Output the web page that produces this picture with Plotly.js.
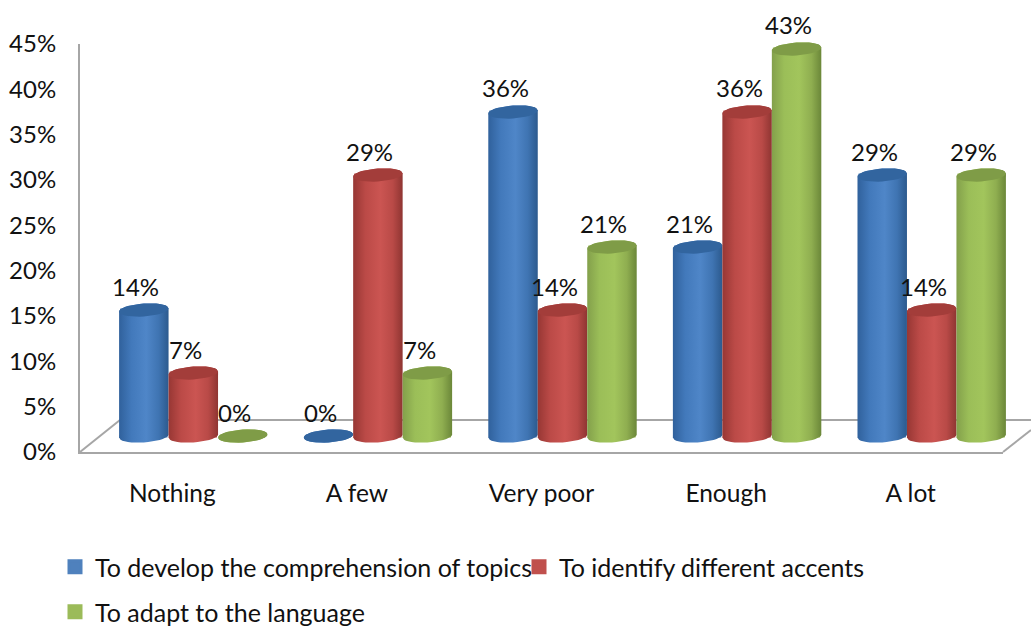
<!DOCTYPE html>
<html><head><meta charset="utf-8">
<script src="https://cdn.plot.ly/plotly-3.0.1.min.js"></script>
<style>html,body{margin:0;padding:0;background:#fff;overflow:hidden;width:1031px;height:627px}</style>
</head><body><div id="chart"></div>
<script>
const categories = ["Nothing", "A few", "Very poor", "Enough", "A lot"];
const comprehension = [14, 0, 36, 21, 29];
const accents = [7, 29, 14, 36, 14];
const language = [0, 7, 21, 43, 29];
const seriesNames = ["To develop the comprehension of topics", "To identify different accents", "To adapt to the language"];
const yTicks = [0, 5, 10, 15, 20, 25, 30, 35, 40, 45];

const FONT = "Lato, 'Open Sans', sans-serif";
const W = 1031, H = 670;
const series = [
  {name: seriesNames[0], values: comprehension, legend: "legend", color: "#4f81bd", cap: "#32659f",
   grad: [[0,"#30619c"],[0.25,"#4279bb"],[0.55,"#4f86c8"],[0.8,"#3f74b2"],[1,"#2c5a8e"]]},
  {name: seriesNames[1], values: accents, legend: "legend", color: "#c0504d", cap: "#a33d3a",
   grad: [[0,"#973734"],[0.25,"#bb4a47"],[0.55,"#cb5552"],[0.8,"#b94a47"],[1,"#8f3532"]]},
  {name: seriesNames[2], values: language, legend: "legend2", color: "#9bbb59", cap: "#7f9c47",
   grad: [[0,"#83a04b"],[0.25,"#9bbe58"],[0.55,"#a2c55c"],[0.8,"#8fae50"],[1,"#6b8739"]]}
];
const slot = 0.268, rx = 0.134, ry = 0.72, tilt = 0.18;
const traces = [];
traces.push({type:"scatter", x:categories, y:categories.map(()=>0), mode:"markers", marker:{opacity:0,size:1},
  showlegend:false, hoverinfo:"skip", xaxis:"x", yaxis:"y"});
series.forEach(s => traces.push({type:"bar", name:s.name, x:categories.map((_,i)=>i), y:s.values, legend:s.legend,
  width:0.24, marker:{color:s.color, line:{color:s.color, width:3}}, xaxis:"x2", yaxis:"y2", hoverinfo:"skip"}));
function arc(xc, yc, from, to) {
  const xs = [], ys = [];
  for (let d = from; d <= to; d += 10) {
    const t = d * Math.PI / 180;
    xs.push(xc + rx * Math.cos(t));
    ys.push(yc + ry * Math.sin(t) + tilt * Math.cos(t));
  }
  return [xs, ys];
}
const annotations = [];
categories.forEach((c, i) => {
  series.forEach((s, k) => {
    const xc = i + (k - 1) * slot, v = s.values[i];
    const low = arc(xc, 0, 180, 360), up = arc(xc, v, 0, 180);
    traces.push({type:"scatter", mode:"lines", x:low[0].concat(up[0], [low[0][0]]), y:low[1].concat(up[1], [low[1][0]]),
      fill:"toself", fillgradient:{type:"horizontal", colorscale:s.grad}, line:{width:0, color:s.color},
      showlegend:false, hoverinfo:"skip", xaxis:"x2", yaxis:"y2"});
    const cap = arc(xc, v, 0, 360);
    traces.push({type:"scatter", mode:"lines", x:cap[0], y:cap[1], fill:"toself", fillcolor:s.cap, line:{width:0, color:s.cap},
      showlegend:false, hoverinfo:"skip", xaxis:"x2", yaxis:"y2"});
    annotations.push({xref:"x2", yref:"y2", x:xc, y:v, text:v+"%", showarrow:false, xshift:-8, yshift:24,
      font:{family:FONT, size:24, color:"#111"}});
  });
});
const line = {color:"#a6a6a6", width:2};
const seg = (x0,y0,x1,y1) => ({type:"line", xref:"paper", yref:"paper", layer:"below",
  x0:x0/W, y0:1-y0/H, x1:x1/W, y1:1-y1/H, line});
const layout = {
  width:W, height:H, margin:{l:0,r:0,t:0,b:0}, paper_bgcolor:"#fff", plot_bgcolor:"rgba(0,0,0,0)",
  barmode:"group", bargap:0.196, bargroupgap:0,
  font:{family:FONT, size:24, color:"#111"},
  xaxis:{domain:[80/W,1003/W], type:"category", range:[-0.5,4.5], anchor:"y", showline:true, linecolor:"#a6a6a6", linewidth:2,
    showgrid:false, zeroline:false, ticks:"", ticklabelstandoff:19, tickfont:{family:FONT,size:24.5,color:"#111"}, fixedrange:true},
  yaxis:{domain:[1-452/H,1-44/H], range:[0,45], anchor:"x", tickvals:yTicks, ticktext:yTicks.map(t=>t+"%"),
    showline:true, linecolor:"#a6a6a6", linewidth:2, showgrid:false, zeroline:false, ticks:"", ticklabelstandoff:17,
    tickfont:{family:FONT,size:24,color:"#111"}, fixedrange:true},
  xaxis2:{domain:[101/W,1024/W], range:[-0.5,4.5], anchor:"y2", visible:false, fixedrange:true},
  yaxis2:{domain:[1-454/H,1-31/H], range:[-2,45], anchor:"x2", visible:false, fixedrange:true},
  legend:{orientation:"h", x:55/W, xanchor:"left", y:1-567/H, yanchor:"middle", bgcolor:"rgba(0,0,0,0)",
    font:{family:FONT,size:25,color:"#111"}, traceorder:"normal", entrywidth:419, entrywidthmode:"pixels"},
  legend2:{orientation:"h", x:55/W, xanchor:"left", y:1-612/H, yanchor:"middle", bgcolor:"rgba(0,0,0,0)",
    font:{family:FONT,size:25,color:"#111"}},
  shapes:[seg(80,452,120,420), seg(120,420,1031,420), seg(1003,452,1031,430)],
  annotations
};
Plotly.newPlot("chart", traces, layout, {displayModeBar:false, responsive:false});
</script></body></html>
